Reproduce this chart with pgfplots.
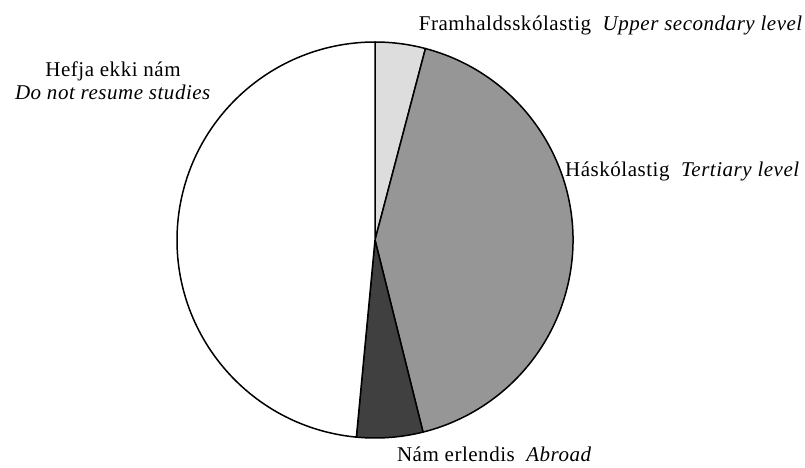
\documentclass[border=0pt]{standalone}
\usepackage{pgfplots}
\pgfplotsset{compat=1.18}
\usepackage{pgfplotstable}
\usepackage{fontspec}
\setmainfont[LetterSpace=2.5]{Liberation Serif}
\definecolor{sliceA}{HTML}{DDDDDD}
\definecolor{sliceB}{HTML}{969696}
\definecolor{sliceC}{HTML}{404040}
\definecolor{sliceD}{HTML}{FFFFFF}
% shares in percent, clockwise from the top
\pgfplotstableread{
name value
Framhaldsskolastig 4.1
Haskolastig 42.0
Namerlendis 5.4
Hefjaekkinam 48.5
}\piedata
\pgfplotstablegetelem{0}{value}\of\piedata\let\vA\pgfplotsretval
\pgfplotstablegetelem{1}{value}\of\piedata\let\vB\pgfplotsretval
\pgfplotstablegetelem{2}{value}\of\piedata\let\vC\pgfplotsretval
\pgfplotstablegetelem{3}{value}\of\piedata\let\vD\pgfplotsretval
\pgfmathsetmacro\aZ{90}
\pgfmathsetmacro\aA{\aZ-3.6*\vA}
\pgfmathsetmacro\aB{\aA-3.6*\vB}
\pgfmathsetmacro\aC{\aB-3.6*\vC}
\pgfmathsetmacro\aD{\aC-3.6*\vD}
\begin{document}
\begin{tikzpicture}
\begin{axis}[
  x=1pt, y=1pt,
  xmin=0, xmax=805, ymin=0, ymax=467,
  hide axis, clip=false,
]
\path (axis cs:0,0) rectangle (axis cs:805,467);
\def\cx{375}\def\cy{227}\def\R{198pt}
\filldraw[fill=sliceA, draw=black, line width=1.5pt, line join=round]
  (axis cs:\cx,\cy) -- ++(\aZ:\R) arc[start angle=\aZ, end angle=\aA, radius=\R] -- cycle;
\filldraw[fill=sliceB, draw=black, line width=1.5pt, line join=round]
  (axis cs:\cx,\cy) -- ++(\aA:\R) arc[start angle=\aA, end angle=\aB, radius=\R] -- cycle;
\filldraw[fill=sliceC, draw=black, line width=1.5pt, line join=round]
  (axis cs:\cx,\cy) -- ++(\aB:\R) arc[start angle=\aB, end angle=\aC, radius=\R] -- cycle;
\filldraw[fill=sliceD, draw=black, line width=1.5pt, line join=round]
  (axis cs:\cx,\cy) -- ++(\aC:\R) arc[start angle=\aC, end angle=\aD, radius=\R] -- cycle;
\node[anchor=base east, font=\fontsize{21}{24}\selectfont, inner sep=0pt] at (axis cs:803,436)
  {Framhaldsskólastig\ \ \textit{Upper secondary level}};
\node[anchor=base west, font=\fontsize{21}{24}\selectfont, inner sep=0pt] at (axis cs:565,291)
  {Háskólastig\ \ \textit{Tertiary level}};
\node[anchor=base east, font=\fontsize{21}{24}\selectfont, inner sep=0pt] at (axis cs:592,6)
  {Nám erlendis\ \ \textit{Abroad}};
\node[anchor=base, font=\fontsize{21}{24}\selectfont, inner sep=0pt] at (axis cs:113,390)
  {Hefja ekki nám};
\node[anchor=base, font=\fontsize{21}{24}\selectfont, inner sep=0pt] at (axis cs:113,367)
  {\textit{Do not resume studies}};
\end{axis}
\end{tikzpicture}
\end{document}
